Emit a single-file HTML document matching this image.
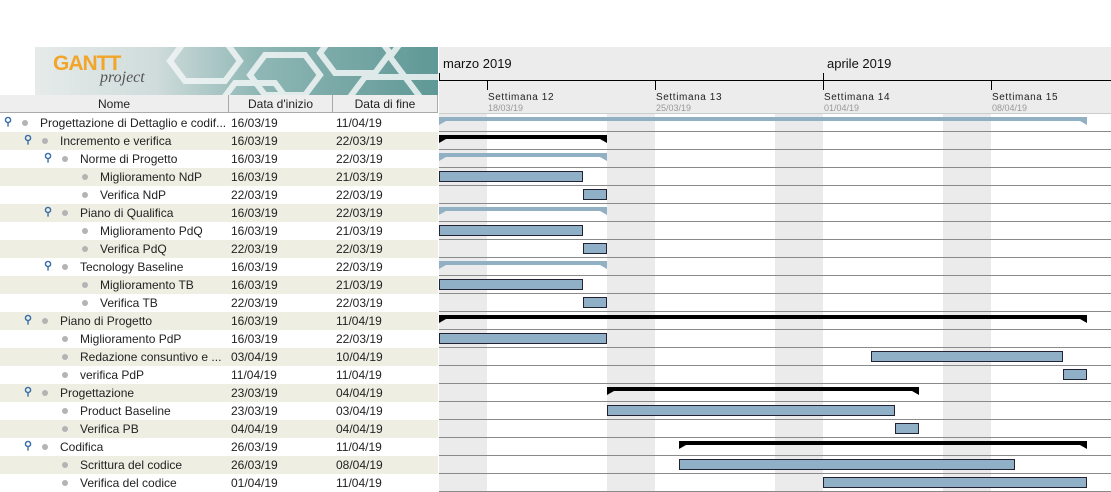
<!DOCTYPE html>
<html><head><meta charset="utf-8">
<style>
body{margin:0;width:1111px;height:492px;background:#fff;overflow:hidden;font-family:"Liberation Sans",sans-serif;position:relative}
.abs{position:absolute}
.hdrcell{position:absolute;top:95px;height:18px;background:#eeeeee;border-right:1px solid #aaa;border-bottom:1px solid #aaa;font-size:12px;color:#222;text-align:center;line-height:18px;box-sizing:border-box}
.row{position:absolute;left:0;width:438px;height:18px;font-size:12px;color:#222;line-height:18px}
.row span{position:absolute;white-space:nowrap}
.dot{width:6px;height:6px;border-radius:50%;background:#b4b4b4;top:6px}
</style></head><body>
<div class="abs" style="left:35px;top:47px;width:403px;height:48px;background:linear-gradient(90deg,#e6ebea 0%,#cfdcdb 30%,#8fb7b5 55%,#5f9896 100%);overflow:hidden">
<svg width="403" height="48" style="position:absolute;left:0;top:0">
<g fill="none" stroke="#f2f6f6" stroke-width="6" opacity="0.85">
<polygon points="150,-6 190,-6 205,14 190,34 150,34 135,14"/>
<polygon points="230,8 270,8 285,28 270,48 230,48 215,28"/>
<polygon points="300,-14 340,-14 355,6 340,26 300,26 285,6"/>
<polygon points="200,36 240,36 255,56 240,76 200,76 185,56"/>
<polygon points="330,30 370,30 385,50 370,70 330,70 315,50"/>
<polygon points="370,-10 410,-10 425,10 410,30 370,30 355,10"/>
</g></svg>
<div class="abs" style="left:18px;top:5px;font-size:21px;font-weight:bold;color:#f2a52a;letter-spacing:-1px">GANTT</div>
<div class="abs" style="left:65px;top:22px;font-family:'Liberation Serif',serif;font-style:italic;font-size:16px;color:#555">project</div>
</div>
<div class="hdrcell" style="left:0;width:229px">Nome</div>
<div class="hdrcell" style="left:229px;width:104px">Data d'inizio</div>
<div class="hdrcell" style="left:333px;width:105px">Data di fine</div>
<div id="table"></div>
<svg id="chart" class="abs" style="left:0;top:0" width="1111" height="492"></svg>
<script>
const names=["Progettazione di Dettaglio e codif...","Incremento e verifica","Norme di Progetto","Miglioramento NdP","Verifica NdP","Piano di Qualifica","Miglioramento PdQ","Verifica PdQ","Tecnology Baseline","Miglioramento TB","Verifica TB","Piano di Progetto","Miglioramento PdP","Redazione consuntivo e ...","verifica PdP","Progettazione","Product Baseline","Verifica PB","Codifica","Scrittura del codice","Verifica del codice"];
const levels=[0,1,2,3,3,2,3,3,2,3,3,1,2,2,2,1,2,2,1,2,2];
const kinds=["S","B","S","T","T","S","T","T","S","T","T","B","T","T","T","B","T","T","B","T","T"];
const starts=["16/03/19","16/03/19","16/03/19","16/03/19","22/03/19","16/03/19","16/03/19","22/03/19","16/03/19","16/03/19","22/03/19","16/03/19","16/03/19","03/04/19","11/04/19","23/03/19","23/03/19","04/04/19","26/03/19","26/03/19","01/04/19"];
const ends=["11/04/19","22/03/19","22/03/19","21/03/19","22/03/19","22/03/19","21/03/19","22/03/19","22/03/19","21/03/19","22/03/19","11/04/19","22/03/19","10/04/19","11/04/19","04/04/19","03/04/19","04/04/19","11/04/19","08/04/19","11/04/19"];
const weeks=["Settimana  12","Settimana  13","Settimana  14","Settimana  15"];
const weekDates=["18/03/19","25/03/19","01/04/19","08/04/19"];
const months=["marzo 2019","aprile 2019"];
const monthDates=["01/03/19","01/04/19"];
const X0=439,DAY=24,ROW0=113,RH=18;
const origin=Date.UTC(2019,2,16);
function dayIdx(s){const p=s.split('/');return Math.round((Date.UTC(2000+ +p[2],+p[1]-1,+p[0])-origin)/864e5);}
function xOf(s){return X0+dayIdx(s)*DAY;}
function yOf(i){return ROW0+i*RH;}
const NS="http://www.w3.org/2000/svg";
const svg=document.getElementById('chart');
function el(t,a){const e=document.createElementNS(NS,t);for(const k in a)e.setAttribute(k,a[k]);svg.appendChild(e);return e;}
let hb=el('rect',{x:439,y:47,width:672,height:66,fill:'#ececec'});


for(let d=0;d<28;d++){const dow=(6+d)%7;if(dow==6||dow==0){const r=el('rect',{x:X0+d*DAY,y:113,width:DAY,height:379,fill:'#ebebeb'});

}}
el('line',{x1:439,y1:80.5,x2:1111,y2:80.5,stroke:'#000'});
months.forEach((m,i)=>{const x=Math.max(X0,xOf(monthDates[i]));
el('line',{x1:x+0.5,y1:73,x2:x+0.5,y2:81,stroke:'#000'});
const t=el('text',{x:x+4,y:68,'font-size':13,fill:'#111'});t.textContent=m;

});
weeks.forEach((w,i)=>{const x=xOf(weekDates[i]);
el('line',{x1:x+0.5,y1:80,x2:x+0.5,y2:90,stroke:'#000'});
const t=el('text',{x:x+1,y:100,'font-size':10,fill:'#222','letter-spacing':'0.6','xml:space':'preserve'});t.textContent=w;


const t2=el('text',{x:x+1,y:111,'font-size':9,fill:'#999'});t2.textContent=weekDates[i];

});
el('line',{x1:439,y1:113.5,x2:1111,y2:113.5,stroke:'#ccc'});
const table=document.getElementById('table');
names.forEach((n,i)=>{
 const y=yOf(i);
 el('line',{x1:439,y1:y+18.5,x2:1111,y2:y+18.5,stroke:'#8a8a8a'});
 const row=document.createElement('div');row.className='row';row.style.top=(y+1)+'px';
 if(i%2==1)row.style.background='#eeeee2';
 
 
 const lv=levels[i],ind=lv*20;
 let h='';
 if(kinds[i]!='T')h+=`<span style="left:${ind+4}px;top:-1px;color:#3b6fa8;font-size:11px;font-weight:bold">&#9906;</span>`;
 h+=`<span class="dot" style="left:${ind+22}px"></span>`;
 h+=`<span style="left:${ind+40}px">${n}</span><span style="left:231px">${starts[i]}</span><span style="left:336px">${ends[i]}</span>`;
 row.innerHTML=h;table.appendChild(row);
 const x1=xOf(starts[i]),x2=xOf(ends[i])+DAY;
 if(kinds[i]=='T'){const r=el('rect',{x:x1+0.5,y:y+4.5,width:x2-x1-1,height:10,fill:'#8fb0c6',stroke:'#223'});
  
  }
 else{const c=kinds[i]=='B'?'#000':'#92b0c4';
  const p=el('path',{d:`M${x1},${y+4}H${x2}V${y+12}L${x2-7},${y+8}H${x1+7}L${x1},${y+12}Z`,fill:c});
  
  }
});
</script>
</body></html>
